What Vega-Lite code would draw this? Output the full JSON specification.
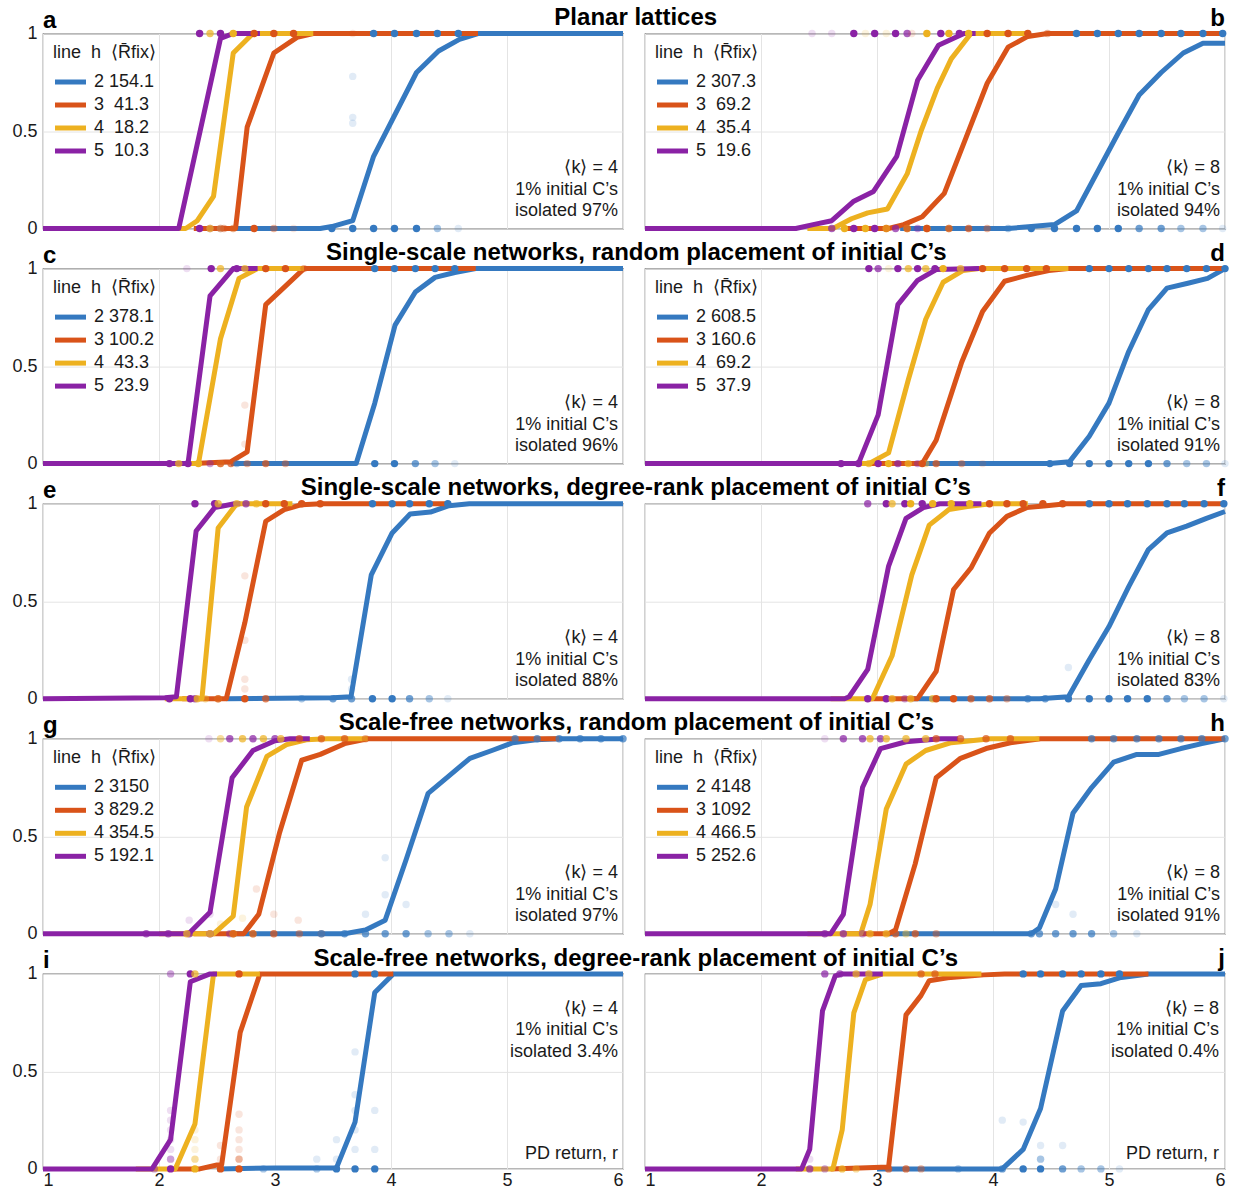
{
"$schema":"https://vega.github.io/schema/vega-lite/v6.json",
"background":"white",
"padding":{"left":11,"top":5.5,"right":10,"bottom":0},
"config":{
"font":"Liberation Sans",
"view":{"stroke":"#666","strokeWidth":1.2},
"axis":{"grid":true,"gridColor":"#e4e4e4","gridWidth":1,"domain":false,"ticks":false,"labelFontSize":18,"labelColor":"#1a1a1a","labelFont":"Liberation Sans"},
"axisX":{"labelPadding":3},
"axisY":{"labelPadding":6},
"legend":{"labelFontSize":18,"titleFontSize":18,"titleFontWeight":"normal","labelColor":"#1a1a1a","titleColor":"#1a1a1a","offset":10,"padding":0,"rowPadding":0,"titlePadding":8,"labelOffset":16,"labelFont":"Liberation Sans","titleFont":"Liberation Sans"},
"title":{"fontSize":24,"fontWeight":"bold","color":"#000","font":"Liberation Sans","frame":"group","offset":3}
},
"datasets":{
"lines":[
{"p":"a","h":2,"x":2.6,"y":0},{"p":"a","h":2,"x":3.39,"y":0},{"p":"a","h":2,"x":3.49,"y":0.01},{"p":"a","h":2,"x":3.67,"y":0.04},{"p":"a","h":2,"x":3.85,"y":0.37},{"p":"a","h":2,"x":4.22,"y":0.8},{"p":"a","h":2,"x":4.41,"y":0.91},{"p":"a","h":2,"x":4.59,"y":0.97},{"p":"a","h":2,"x":4.75,"y":1},{"p":"a","h":2,"x":6,"y":1},
{"p":"a","h":3,"x":2.3,"y":0},{"p":"a","h":3,"x":2.66,"y":0},{"p":"a","h":3,"x":2.76,"y":0.52},{"p":"a","h":3,"x":2.99,"y":0.9},{"p":"a","h":3,"x":3.19,"y":0.98},{"p":"a","h":3,"x":3.33,"y":1},{"p":"a","h":3,"x":4.75,"y":1},
{"p":"a","h":4,"x":2.0,"y":0},{"p":"a","h":4,"x":2.23,"y":0},{"p":"a","h":4,"x":2.33,"y":0.04},{"p":"a","h":4,"x":2.47,"y":0.165},{"p":"a","h":4,"x":2.64,"y":0.9},{"p":"a","h":4,"x":2.81,"y":1},{"p":"a","h":4,"x":3.33,"y":1},
{"p":"a","h":5,"x":1,"y":0},{"p":"a","h":5,"x":2.17,"y":0},{"p":"a","h":5,"x":2.53,"y":0.975},{"p":"a","h":5,"x":2.64,"y":1},{"p":"a","h":5,"x":2.87,"y":1},
{"p":"b","h":2,"x":3.2,"y":0},{"p":"b","h":2,"x":4.13,"y":0},{"p":"b","h":2,"x":4.33,"y":0.01},{"p":"b","h":2,"x":4.53,"y":0.02},{"p":"b","h":2,"x":4.72,"y":0.09},{"p":"b","h":2,"x":5.08,"y":0.49},{"p":"b","h":2,"x":5.26,"y":0.685},{"p":"b","h":2,"x":5.45,"y":0.8},{"p":"b","h":2,"x":5.64,"y":0.9},{"p":"b","h":2,"x":5.81,"y":0.95},{"p":"b","h":2,"x":6,"y":0.95},
{"p":"b","h":3,"x":2.7,"y":0},{"p":"b","h":3,"x":3.1,"y":0},{"p":"b","h":3,"x":3.23,"y":0.02},{"p":"b","h":3,"x":3.39,"y":0.06},{"p":"b","h":3,"x":3.58,"y":0.18},{"p":"b","h":3,"x":3.77,"y":0.47},{"p":"b","h":3,"x":3.95,"y":0.745},{"p":"b","h":3,"x":4.13,"y":0.93},{"p":"b","h":3,"x":4.3,"y":0.985},{"p":"b","h":3,"x":4.47,"y":1},{"p":"b","h":3,"x":6,"y":1},
{"p":"b","h":4,"x":2.4,"y":0},{"p":"b","h":4,"x":2.62,"y":0},{"p":"b","h":4,"x":2.78,"y":0.05},{"p":"b","h":4,"x":2.92,"y":0.08},{"p":"b","h":4,"x":3.09,"y":0.1},{"p":"b","h":4,"x":3.26,"y":0.28},{"p":"b","h":4,"x":3.38,"y":0.5},{"p":"b","h":4,"x":3.52,"y":0.72},{"p":"b","h":4,"x":3.64,"y":0.87},{"p":"b","h":4,"x":3.81,"y":1},{"p":"b","h":4,"x":4.3,"y":1},
{"p":"b","h":5,"x":1,"y":0},{"p":"b","h":5,"x":2.3,"y":0},{"p":"b","h":5,"x":2.45,"y":0.02},{"p":"b","h":5,"x":2.61,"y":0.04},{"p":"b","h":5,"x":2.8,"y":0.14},{"p":"b","h":5,"x":2.97,"y":0.19},{"p":"b","h":5,"x":3.17,"y":0.37},{"p":"b","h":5,"x":3.35,"y":0.76},{"p":"b","h":5,"x":3.53,"y":0.94},{"p":"b","h":5,"x":3.75,"y":1},{"p":"b","h":5,"x":3.85,"y":1},
{"p":"c","h":2,"x":2.62,"y":0},{"p":"c","h":2,"x":3.7,"y":0},{"p":"c","h":2,"x":3.86,"y":0.31},{"p":"c","h":2,"x":4.035,"y":0.71},{"p":"c","h":2,"x":4.21,"y":0.88},{"p":"c","h":2,"x":4.38,"y":0.955},{"p":"c","h":2,"x":4.55,"y":0.98},{"p":"c","h":2,"x":4.73,"y":1},{"p":"c","h":2,"x":6,"y":1},
{"p":"c","h":3,"x":2.3,"y":0},{"p":"c","h":3,"x":2.62,"y":0.01},{"p":"c","h":3,"x":2.76,"y":0.06},{"p":"c","h":3,"x":2.92,"y":0.815},{"p":"c","h":3,"x":3.09,"y":0.91},{"p":"c","h":3,"x":3.25,"y":1},{"p":"c","h":3,"x":4.73,"y":1},
{"p":"c","h":4,"x":2.1,"y":0},{"p":"c","h":4,"x":2.34,"y":0},{"p":"c","h":4,"x":2.53,"y":0.64},{"p":"c","h":4,"x":2.69,"y":0.95},{"p":"c","h":4,"x":2.85,"y":1},{"p":"c","h":4,"x":3.25,"y":1},
{"p":"c","h":5,"x":1,"y":0},{"p":"c","h":5,"x":2.25,"y":0},{"p":"c","h":5,"x":2.44,"y":0.86},{"p":"c","h":5,"x":2.64,"y":1},{"p":"c","h":5,"x":2.85,"y":1},
{"p":"d","h":2,"x":3.3,"y":0},{"p":"d","h":2,"x":4.49,"y":0},{"p":"d","h":2,"x":4.66,"y":0.01},{"p":"d","h":2,"x":4.83,"y":0.14},{"p":"d","h":2,"x":5,"y":0.31},{"p":"d","h":2,"x":5.17,"y":0.575},{"p":"d","h":2,"x":5.34,"y":0.79},{"p":"d","h":2,"x":5.5,"y":0.9},{"p":"d","h":2,"x":5.68,"y":0.925},{"p":"d","h":2,"x":5.85,"y":0.95},{"p":"d","h":2,"x":6,"y":1},
{"p":"d","h":3,"x":2.9,"y":0},{"p":"d","h":3,"x":3.39,"y":0},{"p":"d","h":3,"x":3.51,"y":0.12},{"p":"d","h":3,"x":3.73,"y":0.52},{"p":"d","h":3,"x":3.91,"y":0.78},{"p":"d","h":3,"x":4.1,"y":0.935},{"p":"d","h":3,"x":4.29,"y":0.965},{"p":"d","h":3,"x":4.48,"y":0.99},{"p":"d","h":3,"x":4.65,"y":1},{"p":"d","h":3,"x":6,"y":1},
{"p":"d","h":4,"x":2.7,"y":0},{"p":"d","h":4,"x":2.93,"y":0},{"p":"d","h":4,"x":3.1,"y":0.055},{"p":"d","h":4,"x":3.27,"y":0.43},{"p":"d","h":4,"x":3.42,"y":0.74},{"p":"d","h":4,"x":3.57,"y":0.93},{"p":"d","h":4,"x":3.74,"y":0.99},{"p":"d","h":4,"x":3.88,"y":1},{"p":"d","h":4,"x":4.65,"y":1},
{"p":"d","h":5,"x":1,"y":0},{"p":"d","h":5,"x":2.84,"y":0},{"p":"d","h":5,"x":3.01,"y":0.25},{"p":"d","h":5,"x":3.18,"y":0.815},{"p":"d","h":5,"x":3.35,"y":0.94},{"p":"d","h":5,"x":3.51,"y":0.995},{"p":"d","h":5,"x":3.88,"y":1},
{"p":"e","h":2,"x":2.58,"y":0},{"p":"e","h":2,"x":3.5,"y":0.005},{"p":"e","h":2,"x":3.655,"y":0.01},{"p":"e","h":2,"x":3.83,"y":0.635},{"p":"e","h":2,"x":4.01,"y":0.85},{"p":"e","h":2,"x":4.165,"y":0.947},{"p":"e","h":2,"x":4.34,"y":0.957},{"p":"e","h":2,"x":4.5,"y":0.99},{"p":"e","h":2,"x":4.675,"y":1},{"p":"e","h":2,"x":6,"y":1},
{"p":"e","h":3,"x":2.2,"y":0},{"p":"e","h":3,"x":2.58,"y":0},{"p":"e","h":3,"x":2.74,"y":0.39},{"p":"e","h":3,"x":2.92,"y":0.91},{"p":"e","h":3,"x":3.08,"y":0.97},{"p":"e","h":3,"x":3.23,"y":0.995},{"p":"e","h":3,"x":3.4,"y":1},{"p":"e","h":3,"x":4.5,"y":1},
{"p":"e","h":4,"x":2.05,"y":0},{"p":"e","h":4,"x":2.37,"y":0},{"p":"e","h":4,"x":2.51,"y":0.875},{"p":"e","h":4,"x":2.67,"y":1},{"p":"e","h":4,"x":3.15,"y":1},
{"p":"e","h":5,"x":1,"y":0},{"p":"e","h":5,"x":2.05,"y":0.005},{"p":"e","h":5,"x":2.15,"y":0.01},{"p":"e","h":5,"x":2.32,"y":0.86},{"p":"e","h":5,"x":2.48,"y":0.98},{"p":"e","h":5,"x":2.65,"y":1},{"p":"e","h":5,"x":2.7,"y":1},
{"p":"f","h":2,"x":3.3,"y":0},{"p":"f","h":2,"x":4.4,"y":0},{"p":"f","h":2,"x":4.65,"y":0.01},{"p":"f","h":2,"x":4.83,"y":0.2},{"p":"f","h":2,"x":5,"y":0.37},{"p":"f","h":2,"x":5.17,"y":0.575},{"p":"f","h":2,"x":5.34,"y":0.765},{"p":"f","h":2,"x":5.5,"y":0.85},{"p":"f","h":2,"x":5.67,"y":0.885},{"p":"f","h":2,"x":5.84,"y":0.925},{"p":"f","h":2,"x":6,"y":0.96},
{"p":"f","h":3,"x":2.9,"y":0},{"p":"f","h":3,"x":3.35,"y":0},{"p":"f","h":3,"x":3.51,"y":0.14},{"p":"f","h":3,"x":3.66,"y":0.56},{"p":"f","h":3,"x":3.81,"y":0.67},{"p":"f","h":3,"x":3.97,"y":0.85},{"p":"f","h":3,"x":4.12,"y":0.935},{"p":"f","h":3,"x":4.29,"y":0.98},{"p":"f","h":3,"x":4.46,"y":0.99},{"p":"f","h":3,"x":4.63,"y":1},{"p":"f","h":3,"x":6,"y":1},
{"p":"f","h":4,"x":2.6,"y":0},{"p":"f","h":4,"x":2.96,"y":0},{"p":"f","h":4,"x":3.13,"y":0.22},{"p":"f","h":4,"x":3.3,"y":0.635},{"p":"f","h":4,"x":3.45,"y":0.89},{"p":"f","h":4,"x":3.62,"y":0.97},{"p":"f","h":4,"x":3.78,"y":0.985},{"p":"f","h":4,"x":3.98,"y":1},{"p":"f","h":4,"x":4.3,"y":1},
{"p":"f","h":5,"x":1,"y":0},{"p":"f","h":5,"x":2.72,"y":0},{"p":"f","h":5,"x":2.76,"y":0.01},{"p":"f","h":5,"x":2.92,"y":0.15},{"p":"f","h":5,"x":3.1,"y":0.68},{"p":"f","h":5,"x":3.25,"y":0.925},{"p":"f","h":5,"x":3.4,"y":0.98},{"p":"f","h":5,"x":3.54,"y":1},{"p":"f","h":5,"x":3.9,"y":1},
{"p":"g","h":2,"x":2.6,"y":0},{"p":"g","h":2,"x":3.6,"y":0},{"p":"g","h":2,"x":3.78,"y":0.02},{"p":"g","h":2,"x":3.95,"y":0.07},{"p":"g","h":2,"x":4.13,"y":0.38},{"p":"g","h":2,"x":4.32,"y":0.72},{"p":"g","h":2,"x":4.5,"y":0.81},{"p":"g","h":2,"x":4.68,"y":0.9},{"p":"g","h":2,"x":4.87,"y":0.94},{"p":"g","h":2,"x":5.05,"y":0.98},{"p":"g","h":2,"x":5.25,"y":0.995},{"p":"g","h":2,"x":5.45,"y":1},{"p":"g","h":2,"x":6,"y":1},
{"p":"g","h":3,"x":2.3,"y":0},{"p":"g","h":3,"x":2.73,"y":0},{"p":"g","h":3,"x":2.86,"y":0.1},{"p":"g","h":3,"x":3.04,"y":0.52},{"p":"g","h":3,"x":3.23,"y":0.89},{"p":"g","h":3,"x":3.39,"y":0.92},{"p":"g","h":3,"x":3.6,"y":0.975},{"p":"g","h":3,"x":3.8,"y":1},{"p":"g","h":3,"x":5.45,"y":1},
{"p":"g","h":4,"x":2,"y":0},{"p":"g","h":4,"x":2.47,"y":0},{"p":"g","h":4,"x":2.64,"y":0.09},{"p":"g","h":4,"x":2.755,"y":0.65},{"p":"g","h":4,"x":2.93,"y":0.91},{"p":"g","h":4,"x":3.1,"y":0.97},{"p":"g","h":4,"x":3.27,"y":0.995},{"p":"g","h":4,"x":3.45,"y":1},{"p":"g","h":4,"x":3.8,"y":1},
{"p":"g","h":5,"x":1,"y":0},{"p":"g","h":5,"x":2.255,"y":0},{"p":"g","h":5,"x":2.44,"y":0.11},{"p":"g","h":5,"x":2.63,"y":0.8},{"p":"g","h":5,"x":2.81,"y":0.94},{"p":"g","h":5,"x":3,"y":0.99},{"p":"g","h":5,"x":3.13,"y":1},{"p":"g","h":5,"x":3.3,"y":1},
{"p":"h","h":2,"x":3.1,"y":0},{"p":"h","h":2,"x":4.33,"y":0},{"p":"h","h":2,"x":4.4,"y":0.03},{"p":"h","h":2,"x":4.54,"y":0.23},{"p":"h","h":2,"x":4.69,"y":0.62},{"p":"h","h":2,"x":4.85,"y":0.75},{"p":"h","h":2,"x":5.04,"y":0.88},{"p":"h","h":2,"x":5.24,"y":0.92},{"p":"h","h":2,"x":5.43,"y":0.92},{"p":"h","h":2,"x":5.62,"y":0.95},{"p":"h","h":2,"x":5.8,"y":0.975},{"p":"h","h":2,"x":6,"y":1},
{"p":"h","h":3,"x":2.7,"y":0},{"p":"h","h":3,"x":3.1,"y":0},{"p":"h","h":3,"x":3.16,"y":0.02},{"p":"h","h":3,"x":3.33,"y":0.36},{"p":"h","h":3,"x":3.51,"y":0.8},{"p":"h","h":3,"x":3.72,"y":0.9},{"p":"h","h":3,"x":3.94,"y":0.95},{"p":"h","h":3,"x":4.15,"y":0.98},{"p":"h","h":3,"x":4.41,"y":1},{"p":"h","h":3,"x":6,"y":1},
{"p":"h","h":4,"x":2.4,"y":0},{"p":"h","h":4,"x":2.86,"y":0},{"p":"h","h":4,"x":2.94,"y":0.15},{"p":"h","h":4,"x":3.08,"y":0.64},{"p":"h","h":4,"x":3.25,"y":0.87},{"p":"h","h":4,"x":3.42,"y":0.94},{"p":"h","h":4,"x":3.64,"y":0.98},{"p":"h","h":4,"x":3.98,"y":1},{"p":"h","h":4,"x":4.4,"y":1},
{"p":"h","h":5,"x":1,"y":0},{"p":"h","h":5,"x":2.6,"y":0},{"p":"h","h":5,"x":2.71,"y":0.1},{"p":"h","h":5,"x":2.875,"y":0.75},{"p":"h","h":5,"x":3.03,"y":0.95},{"p":"h","h":5,"x":3.25,"y":0.985},{"p":"h","h":5,"x":3.55,"y":1},{"p":"h","h":5,"x":3.7,"y":1},
{"p":"i","h":2,"x":2.5,"y":0},{"p":"i","h":2,"x":3,"y":0.005},{"p":"i","h":2,"x":3.53,"y":0.005},{"p":"i","h":2,"x":3.69,"y":0.24},{"p":"i","h":2,"x":3.86,"y":0.905},{"p":"i","h":2,"x":4.02,"y":1},{"p":"i","h":2,"x":6,"y":1},
{"p":"i","h":3,"x":2.1,"y":0},{"p":"i","h":3,"x":2.35,"y":0},{"p":"i","h":3,"x":2.5,"y":0.02},{"p":"i","h":3,"x":2.54,"y":0.02},{"p":"i","h":3,"x":2.7,"y":0.7},{"p":"i","h":3,"x":2.87,"y":1},{"p":"i","h":3,"x":4.02,"y":1},
{"p":"i","h":4,"x":1.8,"y":0},{"p":"i","h":4,"x":2.14,"y":0},{"p":"i","h":4,"x":2.31,"y":0.23},{"p":"i","h":4,"x":2.47,"y":1},{"p":"i","h":4,"x":2.87,"y":1},
{"p":"i","h":5,"x":1,"y":0},{"p":"i","h":5,"x":1.94,"y":0},{"p":"i","h":5,"x":2.1,"y":0.15},{"p":"i","h":5,"x":2.27,"y":0.96},{"p":"i","h":5,"x":2.44,"y":1},{"p":"i","h":5,"x":2.5,"y":1},
{"p":"j","h":2,"x":3,"y":0},{"p":"j","h":2,"x":4.08,"y":0},{"p":"j","h":2,"x":4.26,"y":0.1},{"p":"j","h":2,"x":4.41,"y":0.31},{"p":"j","h":2,"x":4.6,"y":0.81},{"p":"j","h":2,"x":4.76,"y":0.94},{"p":"j","h":2,"x":4.93,"y":0.95},{"p":"j","h":2,"x":5.09,"y":0.98},{"p":"j","h":2,"x":5.34,"y":1},{"p":"j","h":2,"x":6,"y":1},
{"p":"j","h":3,"x":2.6,"y":0},{"p":"j","h":3,"x":3.1,"y":0.01},{"p":"j","h":3,"x":3.25,"y":0.79},{"p":"j","h":3,"x":3.38,"y":0.89},{"p":"j","h":3,"x":3.45,"y":0.965},{"p":"j","h":3,"x":3.61,"y":0.98},{"p":"j","h":3,"x":3.92,"y":0.995},{"p":"j","h":3,"x":4.1,"y":1},{"p":"j","h":3,"x":5.34,"y":1},
{"p":"j","h":4,"x":2.3,"y":0},{"p":"j","h":4,"x":2.62,"y":0},{"p":"j","h":4,"x":2.7,"y":0.2},{"p":"j","h":4,"x":2.8,"y":0.8},{"p":"j","h":4,"x":2.9,"y":0.97},{"p":"j","h":4,"x":3.05,"y":1},{"p":"j","h":4,"x":3.9,"y":1},
{"p":"j","h":5,"x":1,"y":0},{"p":"j","h":5,"x":2.35,"y":0},{"p":"j","h":5,"x":2.42,"y":0.1},{"p":"j","h":5,"x":2.53,"y":0.81},{"p":"j","h":5,"x":2.64,"y":0.99},{"p":"j","h":5,"x":2.7,"y":1},{"p":"j","h":5,"x":3.05,"y":1}
],
"dots":[
{"p":"a","h":5,"x":2.35,"y":1,"n":4},{"p":"a","h":5,"x":2.53,"y":1,"n":4},{"p":"a","h":5,"x":2.35,"y":0,"n":4},{"p":"a","h":5,"x":2.44,"y":0,"n":2},{"p":"a","h":5,"x":2.53,"y":0,"n":2},
{"p":"a","h":4,"x":2.44,"y":1,"n":3},{"p":"a","h":4,"x":2.64,"y":1,"n":4},{"p":"a","h":4,"x":2.44,"y":0,"n":3},{"p":"a","h":4,"x":2.53,"y":0,"n":2},{"p":"a","h":4,"x":2.64,"y":0,"n":1},
{"p":"a","h":3,"x":2.82,"y":1,"n":4},{"p":"a","h":3,"x":2.99,"y":1,"n":4},{"p":"a","h":3,"x":3.16,"y":1,"n":4},{"p":"a","h":3,"x":3.67,"y":1,"n":1},{"p":"a","h":3,"x":2.56,"y":0,"n":2},{"p":"a","h":3,"x":2.64,"y":0,"n":2},{"p":"a","h":3,"x":2.82,"y":0,"n":4},{"p":"a","h":3,"x":2.99,"y":0,"n":2},{"p":"a","h":3,"x":3.16,"y":0,"n":1},
{"p":"a","h":2,"x":3.85,"y":1,"n":4},{"p":"a","h":2,"x":4.03,"y":1,"n":4},{"p":"a","h":2,"x":4.22,"y":1,"n":4},{"p":"a","h":2,"x":4.4,"y":1,"n":4},{"p":"a","h":2,"x":4.58,"y":1,"n":4},{"p":"a","h":2,"x":3.49,"y":0,"n":4},{"p":"a","h":2,"x":3.67,"y":0,"n":4},{"p":"a","h":2,"x":3.85,"y":0,"n":4},{"p":"a","h":2,"x":4.03,"y":0,"n":4},{"p":"a","h":2,"x":4.22,"y":0,"n":4},{"p":"a","h":2,"x":4.4,"y":0,"n":2},{"p":"a","h":2,"x":4.58,"y":0,"n":1},{"p":"a","h":2,"x":3.67,"y":0.78,"n":1},{"p":"a","h":2,"x":3.67,"y":0.57,"n":1},{"p":"a","h":2,"x":3.67,"y":0.54,"n":1},
{"p":"b","h":5,"x":2.44,"y":1,"n":1},{"p":"b","h":5,"x":2.61,"y":1,"n":1},{"p":"b","h":5,"x":2.8,"y":1,"n":4},{"p":"b","h":5,"x":2.98,"y":1,"n":4},{"p":"b","h":5,"x":3.16,"y":1,"n":4},{"p":"b","h":5,"x":3.26,"y":1,"n":3},{"p":"b","h":5,"x":3.55,"y":1,"n":4},{"p":"b","h":5,"x":3.71,"y":1,"n":4},{"p":"b","h":5,"x":2.61,"y":0,"n":3},{"p":"b","h":5,"x":2.8,"y":0,"n":4},{"p":"b","h":5,"x":2.98,"y":0,"n":4},{"p":"b","h":5,"x":3.16,"y":0,"n":3},{"p":"b","h":5,"x":3.35,"y":0,"n":2},
{"p":"b","h":4,"x":2.9,"y":1,"n":1},{"p":"b","h":4,"x":3.08,"y":1,"n":1},{"p":"b","h":4,"x":3.43,"y":1,"n":4},{"p":"b","h":4,"x":3.62,"y":1,"n":4},{"p":"b","h":4,"x":3.79,"y":1,"n":4},{"p":"b","h":4,"x":2.72,"y":0,"n":4},{"p":"b","h":4,"x":2.9,"y":0,"n":4},{"p":"b","h":4,"x":3.08,"y":0,"n":4},{"p":"b","h":4,"x":3.26,"y":0,"n":3},{"p":"b","h":4,"x":3.43,"y":0,"n":3},{"p":"b","h":4,"x":3.62,"y":0,"n":2},
{"p":"b","h":3,"x":3.95,"y":1,"n":4},{"p":"b","h":3,"x":4.13,"y":1,"n":4},{"p":"b","h":3,"x":4.3,"y":1,"n":4},{"p":"b","h":3,"x":4.47,"y":1,"n":2},{"p":"b","h":3,"x":3.3,"y":1,"n":1},{"p":"b","h":3,"x":3.08,"y":0,"n":2},{"p":"b","h":3,"x":3.26,"y":0,"n":3},{"p":"b","h":3,"x":3.43,"y":0,"n":4},{"p":"b","h":3,"x":3.62,"y":0,"n":3},{"p":"b","h":3,"x":3.79,"y":0,"n":3},{"p":"b","h":3,"x":3.95,"y":0,"n":2},
{"p":"b","h":2,"x":4.72,"y":1,"n":4},{"p":"b","h":2,"x":4.9,"y":1,"n":4},{"p":"b","h":2,"x":5.08,"y":1,"n":4},{"p":"b","h":2,"x":5.26,"y":1,"n":4},{"p":"b","h":2,"x":5.45,"y":1,"n":4},{"p":"b","h":2,"x":5.62,"y":1,"n":4},{"p":"b","h":2,"x":5.81,"y":1,"n":4},{"p":"b","h":2,"x":5.98,"y":1,"n":4},{"p":"b","h":2,"x":4.13,"y":0,"n":2},{"p":"b","h":2,"x":4.33,"y":0,"n":4},{"p":"b","h":2,"x":4.53,"y":0,"n":4},{"p":"b","h":2,"x":4.72,"y":0,"n":4},{"p":"b","h":2,"x":4.9,"y":0,"n":4},{"p":"b","h":2,"x":5.08,"y":0,"n":4},{"p":"b","h":2,"x":5.26,"y":0,"n":3},{"p":"b","h":2,"x":5.45,"y":0,"n":3},{"p":"b","h":2,"x":5.62,"y":0,"n":2},{"p":"b","h":2,"x":5.81,"y":0,"n":2},{"p":"b","h":2,"x":5.98,"y":0,"n":1},
{"p":"c","h":5,"x":2.45,"y":1,"n":4},{"p":"c","h":5,"x":2.67,"y":1,"n":4},{"p":"c","h":5,"x":2.24,"y":1,"n":1},{"p":"c","h":5,"x":2.09,"y":0,"n":4},{"p":"c","h":5,"x":2.25,"y":0,"n":4},{"p":"c","h":5,"x":2.44,"y":0,"n":2},
{"p":"c","h":4,"x":2.53,"y":1,"n":3},{"p":"c","h":4,"x":2.74,"y":1,"n":3},{"p":"c","h":4,"x":2.92,"y":1,"n":2},{"p":"c","h":4,"x":2.17,"y":0,"n":3},{"p":"c","h":4,"x":2.34,"y":0,"n":4},{"p":"c","h":4,"x":2.53,"y":0,"n":2},
{"p":"c","h":3,"x":2.92,"y":1,"n":4},{"p":"c","h":3,"x":3.09,"y":1,"n":4},{"p":"c","h":3,"x":3.25,"y":1,"n":2},{"p":"c","h":3,"x":2.53,"y":0,"n":3},{"p":"c","h":3,"x":2.62,"y":0,"n":3},{"p":"c","h":3,"x":2.76,"y":0,"n":2},{"p":"c","h":3,"x":2.92,"y":0,"n":3},{"p":"c","h":3,"x":3.09,"y":0,"n":2},{"p":"c","h":3,"x":2.74,"y":0.3,"n":1},{"p":"c","h":3,"x":2.74,"y":0.1,"n":1},
{"p":"c","h":2,"x":3.86,"y":1,"n":4},{"p":"c","h":2,"x":4.03,"y":1,"n":4},{"p":"c","h":2,"x":4.21,"y":1,"n":4},{"p":"c","h":2,"x":4.38,"y":1,"n":4},{"p":"c","h":2,"x":4.55,"y":1,"n":4},{"p":"c","h":2,"x":2.67,"y":0,"n":2},{"p":"c","h":2,"x":3.86,"y":0,"n":4},{"p":"c","h":2,"x":4.03,"y":0,"n":4},{"p":"c","h":2,"x":4.21,"y":0,"n":3},{"p":"c","h":2,"x":4.38,"y":0,"n":2},{"p":"c","h":2,"x":4.55,"y":0,"n":1},
{"p":"d","h":5,"x":2.93,"y":1,"n":4},{"p":"d","h":5,"x":3.01,"y":1,"n":3},{"p":"d","h":5,"x":3.18,"y":1,"n":4},{"p":"d","h":5,"x":3.35,"y":1,"n":4},{"p":"d","h":5,"x":3.5,"y":1,"n":4},{"p":"d","h":5,"x":2.69,"y":0,"n":4},{"p":"d","h":5,"x":2.84,"y":0,"n":4},{"p":"d","h":5,"x":3.01,"y":0,"n":4},{"p":"d","h":5,"x":3.18,"y":0,"n":3},{"p":"d","h":5,"x":3.35,"y":0,"n":2},
{"p":"d","h":4,"x":3.1,"y":1,"n":1},{"p":"d","h":4,"x":3.27,"y":1,"n":3},{"p":"d","h":4,"x":3.42,"y":1,"n":3},{"p":"d","h":4,"x":3.57,"y":1,"n":4},{"p":"d","h":4,"x":3.72,"y":1,"n":3},{"p":"d","h":4,"x":2.93,"y":0,"n":3},{"p":"d","h":4,"x":3.1,"y":0,"n":4},{"p":"d","h":4,"x":3.27,"y":0,"n":3},{"p":"d","h":4,"x":3.42,"y":0,"n":2},
{"p":"d","h":3,"x":3.91,"y":1,"n":4},{"p":"d","h":3,"x":4.1,"y":1,"n":4},{"p":"d","h":3,"x":4.29,"y":1,"n":4},{"p":"d","h":3,"x":4.46,"y":1,"n":4},{"p":"d","h":3,"x":3.39,"y":0,"n":4},{"p":"d","h":3,"x":3.51,"y":0,"n":3},{"p":"d","h":3,"x":3.73,"y":0,"n":2},{"p":"d","h":3,"x":3.91,"y":0,"n":1},
{"p":"d","h":2,"x":4.83,"y":1,"n":4},{"p":"d","h":2,"x":5,"y":1,"n":4},{"p":"d","h":2,"x":5.17,"y":1,"n":4},{"p":"d","h":2,"x":5.34,"y":1,"n":4},{"p":"d","h":2,"x":5.5,"y":1,"n":4},{"p":"d","h":2,"x":5.67,"y":1,"n":4},{"p":"d","h":2,"x":5.84,"y":1,"n":4},{"p":"d","h":2,"x":6,"y":1,"n":4},{"p":"d","h":2,"x":4.49,"y":0,"n":4},{"p":"d","h":2,"x":4.66,"y":0,"n":4},{"p":"d","h":2,"x":4.83,"y":0,"n":4},{"p":"d","h":2,"x":5,"y":0,"n":4},{"p":"d","h":2,"x":5.17,"y":0,"n":4},{"p":"d","h":2,"x":5.34,"y":0,"n":4},{"p":"d","h":2,"x":5.5,"y":0,"n":3},{"p":"d","h":2,"x":5.67,"y":0,"n":2},{"p":"d","h":2,"x":5.84,"y":0,"n":2},{"p":"d","h":2,"x":6,"y":0,"n":1},
{"p":"e","h":5,"x":2.31,"y":1,"n":4},{"p":"e","h":5,"x":2.48,"y":1,"n":4},{"p":"e","h":5,"x":2.75,"y":1,"n":3},{"p":"e","h":5,"x":2.09,"y":0,"n":4},{"p":"e","h":5,"x":2.27,"y":0,"n":4},{"p":"e","h":5,"x":2.31,"y":0,"n":3},
{"p":"e","h":4,"x":2.51,"y":1,"n":3},{"p":"e","h":4,"x":2.67,"y":1,"n":3},{"p":"e","h":4,"x":2.84,"y":1,"n":3},{"p":"e","h":4,"x":2.33,"y":0,"n":3},{"p":"e","h":4,"x":2.4,"y":0,"n":2},{"p":"e","h":4,"x":2.51,"y":0,"n":2},
{"p":"e","h":3,"x":2.92,"y":1,"n":4},{"p":"e","h":3,"x":3.08,"y":1,"n":4},{"p":"e","h":3,"x":3.23,"y":1,"n":4},{"p":"e","h":3,"x":3.39,"y":1,"n":4},{"p":"e","h":3,"x":2.51,"y":0,"n":3},{"p":"e","h":3,"x":2.74,"y":0,"n":4},{"p":"e","h":3,"x":2.92,"y":0,"n":3},{"p":"e","h":3,"x":2.74,"y":0.05,"n":1},{"p":"e","h":3,"x":2.74,"y":0.1,"n":1},{"p":"e","h":3,"x":2.74,"y":0.3,"n":1},{"p":"e","h":3,"x":2.74,"y":0.63,"n":1},
{"p":"e","h":2,"x":3.84,"y":1,"n":4},{"p":"e","h":2,"x":4.01,"y":1,"n":4},{"p":"e","h":2,"x":4.16,"y":1,"n":4},{"p":"e","h":2,"x":4.33,"y":1,"n":4},{"p":"e","h":2,"x":4.49,"y":1,"n":4},{"p":"e","h":2,"x":3.23,"y":0,"n":2},{"p":"e","h":2,"x":3.5,"y":0,"n":3},{"p":"e","h":2,"x":3.66,"y":0,"n":3},{"p":"e","h":2,"x":3.84,"y":0,"n":4},{"p":"e","h":2,"x":4.01,"y":0,"n":4},{"p":"e","h":2,"x":4.16,"y":0,"n":3},{"p":"e","h":2,"x":4.33,"y":0,"n":2},{"p":"e","h":2,"x":4.49,"y":0,"n":1},{"p":"e","h":2,"x":3.66,"y":0.1,"n":1},{"p":"e","h":2,"x":3.66,"y":0.05,"n":1},
{"p":"f","h":5,"x":2.92,"y":1,"n":3},{"p":"f","h":5,"x":3.08,"y":1,"n":4},{"p":"f","h":5,"x":3.24,"y":1,"n":4},{"p":"f","h":5,"x":3.39,"y":1,"n":4},{"p":"f","h":5,"x":2.92,"y":0,"n":4},{"p":"f","h":5,"x":3.08,"y":0,"n":4},{"p":"f","h":5,"x":3.24,"y":0,"n":2},
{"p":"f","h":4,"x":3.13,"y":1,"n":3},{"p":"f","h":4,"x":3.29,"y":1,"n":4},{"p":"f","h":4,"x":3.48,"y":1,"n":4},{"p":"f","h":4,"x":3.64,"y":1,"n":4},{"p":"f","h":4,"x":3.8,"y":1,"n":4},{"p":"f","h":4,"x":3.13,"y":0,"n":3},{"p":"f","h":4,"x":3.29,"y":0,"n":3},{"p":"f","h":4,"x":3.48,"y":0,"n":3},
{"p":"f","h":3,"x":3.97,"y":1,"n":4},{"p":"f","h":3,"x":4.12,"y":1,"n":4},{"p":"f","h":3,"x":4.26,"y":1,"n":4},{"p":"f","h":3,"x":4.43,"y":1,"n":4},{"p":"f","h":3,"x":4.6,"y":1,"n":4},{"p":"f","h":3,"x":3.51,"y":0,"n":4},{"p":"f","h":3,"x":3.66,"y":0,"n":4},{"p":"f","h":3,"x":3.81,"y":0,"n":3},{"p":"f","h":3,"x":3.97,"y":0,"n":3},{"p":"f","h":3,"x":4.12,"y":0,"n":2},
{"p":"f","h":2,"x":4.83,"y":1,"n":4},{"p":"f","h":2,"x":5,"y":1,"n":4},{"p":"f","h":2,"x":5.16,"y":1,"n":4},{"p":"f","h":2,"x":5.33,"y":1,"n":4},{"p":"f","h":2,"x":5.5,"y":1,"n":4},{"p":"f","h":2,"x":5.65,"y":1,"n":4},{"p":"f","h":2,"x":5.82,"y":1,"n":4},{"p":"f","h":2,"x":5.99,"y":1,"n":4},{"p":"f","h":2,"x":4.3,"y":0,"n":3},{"p":"f","h":2,"x":4.45,"y":0,"n":3},{"p":"f","h":2,"x":4.65,"y":0,"n":4},{"p":"f","h":2,"x":4.83,"y":0,"n":4},{"p":"f","h":2,"x":5,"y":0,"n":4},{"p":"f","h":2,"x":5.16,"y":0,"n":4},{"p":"f","h":2,"x":5.33,"y":0,"n":4},{"p":"f","h":2,"x":5.5,"y":0,"n":3},{"p":"f","h":2,"x":5.65,"y":0,"n":2},{"p":"f","h":2,"x":5.82,"y":0,"n":2},{"p":"f","h":2,"x":5.99,"y":0,"n":1},{"p":"f","h":2,"x":4.65,"y":0.16,"n":1},
{"p":"g","h":5,"x":2.43,"y":1,"n":1},{"p":"g","h":5,"x":2.61,"y":1,"n":3},{"p":"g","h":5,"x":2.81,"y":1,"n":3},{"p":"g","h":5,"x":3,"y":1,"n":3},{"p":"g","h":5,"x":1.89,"y":0,"n":3},{"p":"g","h":5,"x":2.08,"y":0,"n":3},{"p":"g","h":5,"x":2.26,"y":0,"n":3},{"p":"g","h":5,"x":2.44,"y":0,"n":3},{"p":"g","h":5,"x":2.61,"y":0,"n":2},{"p":"g","h":5,"x":2.26,"y":0.07,"n":1},{"p":"g","h":5,"x":2.44,"y":0.1,"n":1},
{"p":"g","h":4,"x":2.53,"y":1,"n":2},{"p":"g","h":4,"x":2.72,"y":1,"n":3},{"p":"g","h":4,"x":2.9,"y":1,"n":3},{"p":"g","h":4,"x":3.05,"y":1,"n":3},{"p":"g","h":4,"x":2.24,"y":0,"n":3},{"p":"g","h":4,"x":2.44,"y":0,"n":3},{"p":"g","h":4,"x":2.64,"y":0,"n":3},{"p":"g","h":4,"x":2.81,"y":0,"n":2},{"p":"g","h":4,"x":2.53,"y":0.05,"n":1},{"p":"g","h":4,"x":2.72,"y":0.08,"n":1},
{"p":"g","h":3,"x":3.21,"y":1,"n":3},{"p":"g","h":3,"x":3.4,"y":1,"n":3},{"p":"g","h":3,"x":3.6,"y":1,"n":3},{"p":"g","h":3,"x":3.78,"y":1,"n":2},{"p":"g","h":3,"x":2.64,"y":0,"n":3},{"p":"g","h":3,"x":2.81,"y":0,"n":3},{"p":"g","h":3,"x":2.99,"y":0,"n":3},{"p":"g","h":3,"x":3.21,"y":0,"n":2},{"p":"g","h":3,"x":3.4,"y":0,"n":2},{"p":"g","h":3,"x":2.84,"y":0.23,"n":1},{"p":"g","h":3,"x":2.99,"y":0.1,"n":1},{"p":"g","h":3,"x":3.2,"y":0.07,"n":1},
{"p":"g","h":2,"x":5.07,"y":1,"n":3},{"p":"g","h":2,"x":5.26,"y":1,"n":3},{"p":"g","h":2,"x":5.45,"y":1,"n":3},{"p":"g","h":2,"x":5.63,"y":1,"n":3},{"p":"g","h":2,"x":5.81,"y":1,"n":3},{"p":"g","h":2,"x":6,"y":1,"n":3},{"p":"g","h":2,"x":3.4,"y":0,"n":3},{"p":"g","h":2,"x":3.6,"y":0,"n":3},{"p":"g","h":2,"x":3.78,"y":0,"n":3},{"p":"g","h":2,"x":3.95,"y":0,"n":3},{"p":"g","h":2,"x":4.13,"y":0,"n":3},{"p":"g","h":2,"x":4.32,"y":0,"n":2},{"p":"g","h":2,"x":4.5,"y":0,"n":2},{"p":"g","h":2,"x":4.68,"y":0,"n":1},{"p":"g","h":2,"x":3.78,"y":0.1,"n":1},{"p":"g","h":2,"x":3.95,"y":0.39,"n":1},{"p":"g","h":2,"x":3.95,"y":0.2,"n":1},{"p":"g","h":2,"x":4.13,"y":0.15,"n":1},
{"p":"h","h":5,"x":2.55,"y":1,"n":1},{"p":"h","h":5,"x":2.71,"y":1,"n":3},{"p":"h","h":5,"x":2.875,"y":1,"n":3},{"p":"h","h":5,"x":3.03,"y":1,"n":3},{"p":"h","h":5,"x":2.55,"y":0,"n":3},{"p":"h","h":5,"x":2.71,"y":0,"n":3},{"p":"h","h":5,"x":2.875,"y":0,"n":2},
{"p":"h","h":4,"x":2.94,"y":1,"n":3},{"p":"h","h":4,"x":3.08,"y":1,"n":3},{"p":"h","h":4,"x":3.25,"y":1,"n":3},{"p":"h","h":4,"x":3.42,"y":1,"n":3},{"p":"h","h":4,"x":2.94,"y":0,"n":3},{"p":"h","h":4,"x":3.08,"y":0,"n":3},{"p":"h","h":4,"x":3.25,"y":0,"n":2},
{"p":"h","h":3,"x":3.51,"y":1,"n":3},{"p":"h","h":3,"x":3.72,"y":1,"n":3},{"p":"h","h":3,"x":3.94,"y":1,"n":3},{"p":"h","h":3,"x":4.15,"y":1,"n":3},{"p":"h","h":3,"x":3.16,"y":0,"n":3},{"p":"h","h":3,"x":3.33,"y":0,"n":3},{"p":"h","h":3,"x":3.51,"y":0,"n":2},
{"p":"h","h":2,"x":4.85,"y":1,"n":3},{"p":"h","h":2,"x":5.04,"y":1,"n":3},{"p":"h","h":2,"x":5.24,"y":1,"n":3},{"p":"h","h":2,"x":5.43,"y":1,"n":3},{"p":"h","h":2,"x":5.62,"y":1,"n":3},{"p":"h","h":2,"x":5.8,"y":1,"n":3},{"p":"h","h":2,"x":6,"y":1,"n":3},{"p":"h","h":2,"x":4.33,"y":0,"n":3},{"p":"h","h":2,"x":4.4,"y":0,"n":3},{"p":"h","h":2,"x":4.54,"y":0,"n":3},{"p":"h","h":2,"x":4.69,"y":0,"n":3},{"p":"h","h":2,"x":4.85,"y":0,"n":3},{"p":"h","h":2,"x":5.04,"y":0,"n":2},{"p":"h","h":2,"x":5.24,"y":0,"n":1},{"p":"h","h":2,"x":4.54,"y":0.15,"n":1},{"p":"h","h":2,"x":4.69,"y":0.1,"n":1},
{"p":"i","h":5,"x":2.1,"y":1,"n":2},{"p":"i","h":5,"x":2.27,"y":1,"n":4},{"p":"i","h":5,"x":2.1,"y":0,"n":4},{"p":"i","h":5,"x":1.96,"y":0,"n":2},{"p":"i","h":5,"x":2.1,"y":0.05,"n":2},{"p":"i","h":5,"x":2.1,"y":0.1,"n":1},{"p":"i","h":5,"x":2.1,"y":0.15,"n":1},{"p":"i","h":5,"x":2.1,"y":0.2,"n":1},{"p":"i","h":5,"x":2.1,"y":0.25,"n":1},{"p":"i","h":5,"x":2.1,"y":0.3,"n":1},
{"p":"i","h":4,"x":2.31,"y":1,"n":3},{"p":"i","h":4,"x":2.31,"y":0,"n":4},{"p":"i","h":4,"x":2.31,"y":0.05,"n":2},{"p":"i","h":4,"x":2.31,"y":0.1,"n":1},{"p":"i","h":4,"x":2.31,"y":0.15,"n":1},{"p":"i","h":4,"x":2.31,"y":0.2,"n":1},
{"p":"i","h":3,"x":2.69,"y":1,"n":4},{"p":"i","h":3,"x":2.53,"y":0,"n":4},{"p":"i","h":3,"x":2.69,"y":0,"n":4},{"p":"i","h":3,"x":2.53,"y":0.05,"n":1},{"p":"i","h":3,"x":2.53,"y":0.12,"n":1},{"p":"i","h":3,"x":2.69,"y":0.05,"n":2},{"p":"i","h":3,"x":2.69,"y":0.1,"n":1},{"p":"i","h":3,"x":2.69,"y":0.15,"n":1},{"p":"i","h":3,"x":2.69,"y":0.2,"n":1},{"p":"i","h":3,"x":2.69,"y":0.28,"n":1},
{"p":"i","h":2,"x":3.69,"y":1,"n":4},{"p":"i","h":2,"x":3.86,"y":1,"n":4},{"p":"i","h":2,"x":2.9,"y":0,"n":2},{"p":"i","h":2,"x":3.36,"y":0,"n":2},{"p":"i","h":2,"x":3.53,"y":0,"n":4},{"p":"i","h":2,"x":3.69,"y":0,"n":4},{"p":"i","h":2,"x":3.86,"y":0,"n":4},{"p":"i","h":2,"x":3.36,"y":0.05,"n":1},{"p":"i","h":2,"x":3.53,"y":0.05,"n":1},{"p":"i","h":2,"x":3.53,"y":0.15,"n":1},{"p":"i","h":2,"x":3.69,"y":0.1,"n":1},{"p":"i","h":2,"x":3.69,"y":0.2,"n":1},{"p":"i","h":2,"x":3.69,"y":0.3,"n":1},{"p":"i","h":2,"x":3.69,"y":0.38,"n":1},{"p":"i","h":2,"x":3.69,"y":0.6,"n":1},{"p":"i","h":2,"x":3.86,"y":0.1,"n":1},{"p":"i","h":2,"x":3.86,"y":0.3,"n":1},
{"p":"j","h":5,"x":2.55,"y":1,"n":3},{"p":"j","h":5,"x":2.68,"y":1,"n":3},{"p":"j","h":5,"x":2.42,"y":0,"n":3},{"p":"j","h":5,"x":2.55,"y":0,"n":2},{"p":"j","h":5,"x":2.42,"y":0.05,"n":1},
{"p":"j","h":4,"x":2.82,"y":1,"n":3},{"p":"j","h":4,"x":2.93,"y":1,"n":3},{"p":"j","h":4,"x":2.7,"y":0,"n":3},{"p":"j","h":4,"x":2.82,"y":0,"n":2},
{"p":"j","h":3,"x":3.38,"y":1,"n":3},{"p":"j","h":3,"x":3.5,"y":1,"n":3},{"p":"j","h":3,"x":3.1,"y":0,"n":3},{"p":"j","h":3,"x":3.25,"y":0,"n":3},{"p":"j","h":3,"x":3.38,"y":0,"n":2},
{"p":"j","h":2,"x":4.26,"y":1,"n":4},{"p":"j","h":2,"x":4.41,"y":1,"n":4},{"p":"j","h":2,"x":4.6,"y":1,"n":4},{"p":"j","h":2,"x":4.76,"y":1,"n":4},{"p":"j","h":2,"x":4.93,"y":1,"n":4},{"p":"j","h":2,"x":5.09,"y":1,"n":4},{"p":"j","h":2,"x":3.7,"y":0,"n":2},{"p":"j","h":2,"x":4.08,"y":0,"n":3},{"p":"j","h":2,"x":4.26,"y":0,"n":4},{"p":"j","h":2,"x":4.41,"y":0,"n":4},{"p":"j","h":2,"x":4.6,"y":0,"n":3},{"p":"j","h":2,"x":4.76,"y":0,"n":2},{"p":"j","h":2,"x":4.93,"y":0,"n":2},{"p":"j","h":2,"x":5.09,"y":0,"n":1},{"p":"j","h":2,"x":4.08,"y":0.25,"n":1},{"p":"j","h":2,"x":4.26,"y":0.24,"n":1},{"p":"j","h":2,"x":4.41,"y":0.12,"n":1},{"p":"j","h":2,"x":4.6,"y":0.12,"n":1},{"p":"j","h":2,"x":4.41,"y":0.05,"n":2}
]
},
"spacing":2.1,
"resolve":{"scale":{"color":"independent","opacity":"independent"},"legend":{"color":"independent"}},
"vconcat":[
{"title":{"text":"Planar lattices","anchor":"middle","frame":"bounds","dx":16,"offset":-24},"spacing":22,"bounds":"flush","resolve":{"scale":{"color":"independent","opacity":"independent"},"legend":{"color":"independent"}},
"hconcat":[
{"width":580,"height":195,"title":{"text":"a","anchor":"start","offset":-8},"layer":[
{"data":{"name":"lines"},"transform":[{"filter":"datum.p=='a'"}],"mark":{"type":"line","strokeWidth":5,"strokeJoin":"round","clip":false},"encoding":{"x":{"field":"x","type":"quantitative","scale":{"domain":[1,6],"nice":false,"zero":false},"axis":{"values":[1,2,3,4,5,6],"labels":false},"title":null},"y":{"field":"y","type":"quantitative","scale":{"domain":[0,1],"nice":false},"axis":{"values":[0,0.5,1],"format":"~g","labels":true},"title":null},"color":{"field":"h","type":"nominal","scale":{"domain":[2,3,4,5],"range":["#3579c0","#d95319","#edb120","#8a22a5"]},"legend":{"orient":"top-left","title":"line\u00a0\u00a0h\u00a0\u00a0⟨R\u0304fix⟩","symbolType":"M-1.05,0H2.05","symbolStrokeWidth":5,"symbolSize":400,"labelExpr":"datum.label=='2'?'2 154.1':datum.label=='3'?'3\u00a0\u00a041.3':datum.label=='4'?'4\u00a0\u00a018.2':'5\u00a0\u00a010.3'"}}}},
{"data":{"name":"dots"},"transform":[{"filter":"datum.p=='a'"}],"mark":{"type":"circle","size":55},"encoding":{"x":{"field":"x","type":"quantitative","scale":{"domain":[1,6],"nice":false,"zero":false},"axis":{"values":[1,2,3,4,5,6],"labels":false},"title":null},"y":{"field":"y","type":"quantitative","scale":{"domain":[0,1],"nice":false},"axis":{"values":[0,0.5,1],"format":"~g","labels":true},"title":null},"color":{"field":"h","type":"nominal","scale":{"domain":[2,3,4,5],"range":["#3579c0","#d95319","#edb120","#8a22a5"]},"legend":null},"opacity":{"field":"n","type":"quantitative","scale":{"domain":[1,4],"range":[0.15,1]},"legend":null}}},
{"data":{"values":[{}]},"mark":{"type":"text","align":"right","baseline":"alphabetic","dx":-5,"dy":-55.5,"fontSize":18,"lineHeight":21.5,"color":"#1a1a1a"},"encoding":{"x":{"datum":6,"type":"quantitative","scale":{"domain":[1,6],"nice":false,"zero":false},"axis":{"values":[1,2,3,4,5,6],"labels":false},"title":null},"y":{"datum":0,"type":"quantitative","scale":{"domain":[0,1],"nice":false},"axis":{"values":[0,0.5,1],"format":"~g","labels":true},"title":null},"text":{"value":["⟨k⟩ = 4","1% initial C’s","isolated 97%"]}}}
]},
{"width":580,"height":195,"title":{"text":"b","anchor":"end","offset":-1},"layer":[
{"data":{"name":"lines"},"transform":[{"filter":"datum.p=='b'"}],"mark":{"type":"line","strokeWidth":5,"strokeJoin":"round","clip":false},"encoding":{"x":{"field":"x","type":"quantitative","scale":{"domain":[1,6],"nice":false,"zero":false},"axis":{"values":[1,2,3,4,5,6],"labels":false},"title":null},"y":{"field":"y","type":"quantitative","scale":{"domain":[0,1],"nice":false},"axis":{"values":[0,0.5,1],"format":"~g","labels":false},"title":null},"color":{"field":"h","type":"nominal","scale":{"domain":[2,3,4,5],"range":["#3579c0","#d95319","#edb120","#8a22a5"]},"legend":{"orient":"top-left","title":"line\u00a0\u00a0h\u00a0\u00a0⟨R\u0304fix⟩","symbolType":"M-1.05,0H2.05","symbolStrokeWidth":5,"symbolSize":400,"labelExpr":"datum.label=='2'?'2 307.3':datum.label=='3'?'3\u00a0\u00a069.2':datum.label=='4'?'4\u00a0\u00a035.4':'5\u00a0\u00a019.6'"}}}},
{"data":{"name":"dots"},"transform":[{"filter":"datum.p=='b'"}],"mark":{"type":"circle","size":55},"encoding":{"x":{"field":"x","type":"quantitative","scale":{"domain":[1,6],"nice":false,"zero":false},"axis":{"values":[1,2,3,4,5,6],"labels":false},"title":null},"y":{"field":"y","type":"quantitative","scale":{"domain":[0,1],"nice":false},"axis":{"values":[0,0.5,1],"format":"~g","labels":false},"title":null},"color":{"field":"h","type":"nominal","scale":{"domain":[2,3,4,5],"range":["#3579c0","#d95319","#edb120","#8a22a5"]},"legend":null},"opacity":{"field":"n","type":"quantitative","scale":{"domain":[1,4],"range":[0.15,1]},"legend":null}}},
{"data":{"values":[{}]},"mark":{"type":"text","align":"right","baseline":"alphabetic","dx":-5,"dy":-55.5,"fontSize":18,"lineHeight":21.5,"color":"#1a1a1a"},"encoding":{"x":{"datum":6,"type":"quantitative","scale":{"domain":[1,6],"nice":false,"zero":false},"axis":{"values":[1,2,3,4,5,6],"labels":false},"title":null},"y":{"datum":0,"type":"quantitative","scale":{"domain":[0,1],"nice":false},"axis":{"values":[0,0.5,1],"format":"~g","labels":false},"title":null},"text":{"value":["⟨k⟩ = 8","1% initial C’s","isolated 94%"]}}}
]}
]},
{"title":{"text":"Single-scale networks, random placement of initial C’s","anchor":"middle","frame":"bounds","dx":16,"offset":-24},"spacing":22,"bounds":"flush","resolve":{"scale":{"color":"independent","opacity":"independent"},"legend":{"color":"independent"}},
"hconcat":[
{"width":580,"height":195,"title":{"text":"c","anchor":"start","offset":-8},"layer":[
{"data":{"name":"lines"},"transform":[{"filter":"datum.p=='c'"}],"mark":{"type":"line","strokeWidth":5,"strokeJoin":"round","clip":false},"encoding":{"x":{"field":"x","type":"quantitative","scale":{"domain":[1,6],"nice":false,"zero":false},"axis":{"values":[1,2,3,4,5,6],"labels":false},"title":null},"y":{"field":"y","type":"quantitative","scale":{"domain":[0,1],"nice":false},"axis":{"values":[0,0.5,1],"format":"~g","labels":true},"title":null},"color":{"field":"h","type":"nominal","scale":{"domain":[2,3,4,5],"range":["#3579c0","#d95319","#edb120","#8a22a5"]},"legend":{"orient":"top-left","title":"line\u00a0\u00a0h\u00a0\u00a0⟨R\u0304fix⟩","symbolType":"M-1.05,0H2.05","symbolStrokeWidth":5,"symbolSize":400,"labelExpr":"datum.label=='2'?'2 378.1':datum.label=='3'?'3 100.2':datum.label=='4'?'4\u00a0\u00a043.3':'5\u00a0\u00a023.9'"}}}},
{"data":{"name":"dots"},"transform":[{"filter":"datum.p=='c'"}],"mark":{"type":"circle","size":55},"encoding":{"x":{"field":"x","type":"quantitative","scale":{"domain":[1,6],"nice":false,"zero":false},"axis":{"values":[1,2,3,4,5,6],"labels":false},"title":null},"y":{"field":"y","type":"quantitative","scale":{"domain":[0,1],"nice":false},"axis":{"values":[0,0.5,1],"format":"~g","labels":true},"title":null},"color":{"field":"h","type":"nominal","scale":{"domain":[2,3,4,5],"range":["#3579c0","#d95319","#edb120","#8a22a5"]},"legend":null},"opacity":{"field":"n","type":"quantitative","scale":{"domain":[1,4],"range":[0.15,1]},"legend":null}}},
{"data":{"values":[{}]},"mark":{"type":"text","align":"right","baseline":"alphabetic","dx":-5,"dy":-55.5,"fontSize":18,"lineHeight":21.5,"color":"#1a1a1a"},"encoding":{"x":{"datum":6,"type":"quantitative","scale":{"domain":[1,6],"nice":false,"zero":false},"axis":{"values":[1,2,3,4,5,6],"labels":false},"title":null},"y":{"datum":0,"type":"quantitative","scale":{"domain":[0,1],"nice":false},"axis":{"values":[0,0.5,1],"format":"~g","labels":true},"title":null},"text":{"value":["⟨k⟩ = 4","1% initial C’s","isolated 96%"]}}}
]},
{"width":580,"height":195,"title":{"text":"d","anchor":"end","offset":-1},"layer":[
{"data":{"name":"lines"},"transform":[{"filter":"datum.p=='d'"}],"mark":{"type":"line","strokeWidth":5,"strokeJoin":"round","clip":false},"encoding":{"x":{"field":"x","type":"quantitative","scale":{"domain":[1,6],"nice":false,"zero":false},"axis":{"values":[1,2,3,4,5,6],"labels":false},"title":null},"y":{"field":"y","type":"quantitative","scale":{"domain":[0,1],"nice":false},"axis":{"values":[0,0.5,1],"format":"~g","labels":false},"title":null},"color":{"field":"h","type":"nominal","scale":{"domain":[2,3,4,5],"range":["#3579c0","#d95319","#edb120","#8a22a5"]},"legend":{"orient":"top-left","title":"line\u00a0\u00a0h\u00a0\u00a0⟨R\u0304fix⟩","symbolType":"M-1.05,0H2.05","symbolStrokeWidth":5,"symbolSize":400,"labelExpr":"datum.label=='2'?'2 608.5':datum.label=='3'?'3 160.6':datum.label=='4'?'4\u00a0\u00a069.2':'5\u00a0\u00a037.9'"}}}},
{"data":{"name":"dots"},"transform":[{"filter":"datum.p=='d'"}],"mark":{"type":"circle","size":55},"encoding":{"x":{"field":"x","type":"quantitative","scale":{"domain":[1,6],"nice":false,"zero":false},"axis":{"values":[1,2,3,4,5,6],"labels":false},"title":null},"y":{"field":"y","type":"quantitative","scale":{"domain":[0,1],"nice":false},"axis":{"values":[0,0.5,1],"format":"~g","labels":false},"title":null},"color":{"field":"h","type":"nominal","scale":{"domain":[2,3,4,5],"range":["#3579c0","#d95319","#edb120","#8a22a5"]},"legend":null},"opacity":{"field":"n","type":"quantitative","scale":{"domain":[1,4],"range":[0.15,1]},"legend":null}}},
{"data":{"values":[{}]},"mark":{"type":"text","align":"right","baseline":"alphabetic","dx":-5,"dy":-55.5,"fontSize":18,"lineHeight":21.5,"color":"#1a1a1a"},"encoding":{"x":{"datum":6,"type":"quantitative","scale":{"domain":[1,6],"nice":false,"zero":false},"axis":{"values":[1,2,3,4,5,6],"labels":false},"title":null},"y":{"datum":0,"type":"quantitative","scale":{"domain":[0,1],"nice":false},"axis":{"values":[0,0.5,1],"format":"~g","labels":false},"title":null},"text":{"value":["⟨k⟩ = 8","1% initial C’s","isolated 91%"]}}}
]}
]},
{"title":{"text":"Single-scale networks, degree-rank placement of initial C’s","anchor":"middle","frame":"bounds","dx":16,"offset":-24},"spacing":22,"bounds":"flush","resolve":{"scale":{"color":"independent","opacity":"independent"},"legend":{"color":"independent"}},
"hconcat":[
{"width":580,"height":195,"title":{"text":"e","anchor":"start","offset":-8},"layer":[
{"data":{"name":"lines"},"transform":[{"filter":"datum.p=='e'"}],"mark":{"type":"line","strokeWidth":5,"strokeJoin":"round","clip":false},"encoding":{"x":{"field":"x","type":"quantitative","scale":{"domain":[1,6],"nice":false,"zero":false},"axis":{"values":[1,2,3,4,5,6],"labels":false},"title":null},"y":{"field":"y","type":"quantitative","scale":{"domain":[0,1],"nice":false},"axis":{"values":[0,0.5,1],"format":"~g","labels":true},"title":null},"color":{"field":"h","type":"nominal","scale":{"domain":[2,3,4,5],"range":["#3579c0","#d95319","#edb120","#8a22a5"]},"legend":null}}},
{"data":{"name":"dots"},"transform":[{"filter":"datum.p=='e'"}],"mark":{"type":"circle","size":55},"encoding":{"x":{"field":"x","type":"quantitative","scale":{"domain":[1,6],"nice":false,"zero":false},"axis":{"values":[1,2,3,4,5,6],"labels":false},"title":null},"y":{"field":"y","type":"quantitative","scale":{"domain":[0,1],"nice":false},"axis":{"values":[0,0.5,1],"format":"~g","labels":true},"title":null},"color":{"field":"h","type":"nominal","scale":{"domain":[2,3,4,5],"range":["#3579c0","#d95319","#edb120","#8a22a5"]},"legend":null},"opacity":{"field":"n","type":"quantitative","scale":{"domain":[1,4],"range":[0.15,1]},"legend":null}}},
{"data":{"values":[{}]},"mark":{"type":"text","align":"right","baseline":"alphabetic","dx":-5,"dy":-55.5,"fontSize":18,"lineHeight":21.5,"color":"#1a1a1a"},"encoding":{"x":{"datum":6,"type":"quantitative","scale":{"domain":[1,6],"nice":false,"zero":false},"axis":{"values":[1,2,3,4,5,6],"labels":false},"title":null},"y":{"datum":0,"type":"quantitative","scale":{"domain":[0,1],"nice":false},"axis":{"values":[0,0.5,1],"format":"~g","labels":true},"title":null},"text":{"value":["⟨k⟩ = 4","1% initial C’s","isolated 88%"]}}}
]},
{"width":580,"height":195,"title":{"text":"f","anchor":"end","offset":-1},"layer":[
{"data":{"name":"lines"},"transform":[{"filter":"datum.p=='f'"}],"mark":{"type":"line","strokeWidth":5,"strokeJoin":"round","clip":false},"encoding":{"x":{"field":"x","type":"quantitative","scale":{"domain":[1,6],"nice":false,"zero":false},"axis":{"values":[1,2,3,4,5,6],"labels":false},"title":null},"y":{"field":"y","type":"quantitative","scale":{"domain":[0,1],"nice":false},"axis":{"values":[0,0.5,1],"format":"~g","labels":false},"title":null},"color":{"field":"h","type":"nominal","scale":{"domain":[2,3,4,5],"range":["#3579c0","#d95319","#edb120","#8a22a5"]},"legend":null}}},
{"data":{"name":"dots"},"transform":[{"filter":"datum.p=='f'"}],"mark":{"type":"circle","size":55},"encoding":{"x":{"field":"x","type":"quantitative","scale":{"domain":[1,6],"nice":false,"zero":false},"axis":{"values":[1,2,3,4,5,6],"labels":false},"title":null},"y":{"field":"y","type":"quantitative","scale":{"domain":[0,1],"nice":false},"axis":{"values":[0,0.5,1],"format":"~g","labels":false},"title":null},"color":{"field":"h","type":"nominal","scale":{"domain":[2,3,4,5],"range":["#3579c0","#d95319","#edb120","#8a22a5"]},"legend":null},"opacity":{"field":"n","type":"quantitative","scale":{"domain":[1,4],"range":[0.15,1]},"legend":null}}},
{"data":{"values":[{}]},"mark":{"type":"text","align":"right","baseline":"alphabetic","dx":-5,"dy":-55.5,"fontSize":18,"lineHeight":21.5,"color":"#1a1a1a"},"encoding":{"x":{"datum":6,"type":"quantitative","scale":{"domain":[1,6],"nice":false,"zero":false},"axis":{"values":[1,2,3,4,5,6],"labels":false},"title":null},"y":{"datum":0,"type":"quantitative","scale":{"domain":[0,1],"nice":false},"axis":{"values":[0,0.5,1],"format":"~g","labels":false},"title":null},"text":{"value":["⟨k⟩ = 8","1% initial C’s","isolated 83%"]}}}
]}
]},
{"title":{"text":"Scale-free networks, random placement of initial C’s","anchor":"middle","frame":"bounds","dx":16,"offset":-24},"spacing":22,"bounds":"flush","resolve":{"scale":{"color":"independent","opacity":"independent"},"legend":{"color":"independent"}},
"hconcat":[
{"width":580,"height":195,"title":{"text":"g","anchor":"start","offset":-8},"layer":[
{"data":{"name":"lines"},"transform":[{"filter":"datum.p=='g'"}],"mark":{"type":"line","strokeWidth":5,"strokeJoin":"round","clip":false},"encoding":{"x":{"field":"x","type":"quantitative","scale":{"domain":[1,6],"nice":false,"zero":false},"axis":{"values":[1,2,3,4,5,6],"labels":false},"title":null},"y":{"field":"y","type":"quantitative","scale":{"domain":[0,1],"nice":false},"axis":{"values":[0,0.5,1],"format":"~g","labels":true},"title":null},"color":{"field":"h","type":"nominal","scale":{"domain":[2,3,4,5],"range":["#3579c0","#d95319","#edb120","#8a22a5"]},"legend":{"orient":"top-left","title":"line\u00a0\u00a0h\u00a0\u00a0⟨R\u0304fix⟩","symbolType":"M-1.05,0H2.05","symbolStrokeWidth":5,"symbolSize":400,"labelExpr":"datum.label=='2'?'2 3150':datum.label=='3'?'3 829.2':datum.label=='4'?'4 354.5':'5 192.1'"}}}},
{"data":{"name":"dots"},"transform":[{"filter":"datum.p=='g'"}],"mark":{"type":"circle","size":55},"encoding":{"x":{"field":"x","type":"quantitative","scale":{"domain":[1,6],"nice":false,"zero":false},"axis":{"values":[1,2,3,4,5,6],"labels":false},"title":null},"y":{"field":"y","type":"quantitative","scale":{"domain":[0,1],"nice":false},"axis":{"values":[0,0.5,1],"format":"~g","labels":true},"title":null},"color":{"field":"h","type":"nominal","scale":{"domain":[2,3,4,5],"range":["#3579c0","#d95319","#edb120","#8a22a5"]},"legend":null},"opacity":{"field":"n","type":"quantitative","scale":{"domain":[1,4],"range":[0.15,1]},"legend":null}}},
{"data":{"values":[{}]},"mark":{"type":"text","align":"right","baseline":"alphabetic","dx":-5,"dy":-55.5,"fontSize":18,"lineHeight":21.5,"color":"#1a1a1a"},"encoding":{"x":{"datum":6,"type":"quantitative","scale":{"domain":[1,6],"nice":false,"zero":false},"axis":{"values":[1,2,3,4,5,6],"labels":false},"title":null},"y":{"datum":0,"type":"quantitative","scale":{"domain":[0,1],"nice":false},"axis":{"values":[0,0.5,1],"format":"~g","labels":true},"title":null},"text":{"value":["⟨k⟩ = 4","1% initial C’s","isolated 97%"]}}}
]},
{"width":580,"height":195,"title":{"text":"h","anchor":"end","offset":-1},"layer":[
{"data":{"name":"lines"},"transform":[{"filter":"datum.p=='h'"}],"mark":{"type":"line","strokeWidth":5,"strokeJoin":"round","clip":false},"encoding":{"x":{"field":"x","type":"quantitative","scale":{"domain":[1,6],"nice":false,"zero":false},"axis":{"values":[1,2,3,4,5,6],"labels":false},"title":null},"y":{"field":"y","type":"quantitative","scale":{"domain":[0,1],"nice":false},"axis":{"values":[0,0.5,1],"format":"~g","labels":false},"title":null},"color":{"field":"h","type":"nominal","scale":{"domain":[2,3,4,5],"range":["#3579c0","#d95319","#edb120","#8a22a5"]},"legend":{"orient":"top-left","title":"line\u00a0\u00a0h\u00a0\u00a0⟨R\u0304fix⟩","symbolType":"M-1.05,0H2.05","symbolStrokeWidth":5,"symbolSize":400,"labelExpr":"datum.label=='2'?'2 4148':datum.label=='3'?'3 1092':datum.label=='4'?'4 466.5':'5 252.6'"}}}},
{"data":{"name":"dots"},"transform":[{"filter":"datum.p=='h'"}],"mark":{"type":"circle","size":55},"encoding":{"x":{"field":"x","type":"quantitative","scale":{"domain":[1,6],"nice":false,"zero":false},"axis":{"values":[1,2,3,4,5,6],"labels":false},"title":null},"y":{"field":"y","type":"quantitative","scale":{"domain":[0,1],"nice":false},"axis":{"values":[0,0.5,1],"format":"~g","labels":false},"title":null},"color":{"field":"h","type":"nominal","scale":{"domain":[2,3,4,5],"range":["#3579c0","#d95319","#edb120","#8a22a5"]},"legend":null},"opacity":{"field":"n","type":"quantitative","scale":{"domain":[1,4],"range":[0.15,1]},"legend":null}}},
{"data":{"values":[{}]},"mark":{"type":"text","align":"right","baseline":"alphabetic","dx":-5,"dy":-55.5,"fontSize":18,"lineHeight":21.5,"color":"#1a1a1a"},"encoding":{"x":{"datum":6,"type":"quantitative","scale":{"domain":[1,6],"nice":false,"zero":false},"axis":{"values":[1,2,3,4,5,6],"labels":false},"title":null},"y":{"datum":0,"type":"quantitative","scale":{"domain":[0,1],"nice":false},"axis":{"values":[0,0.5,1],"format":"~g","labels":false},"title":null},"text":{"value":["⟨k⟩ = 8","1% initial C’s","isolated 91%"]}}}
]}
]},
{"title":{"text":"Scale-free networks, degree-rank placement of initial C’s","anchor":"middle","frame":"bounds","dx":16,"offset":-24},"spacing":22,"bounds":"flush","resolve":{"scale":{"color":"independent","opacity":"independent"},"legend":{"color":"independent"}},
"hconcat":[
{"width":580,"height":195,"title":{"text":"i","anchor":"start","offset":-8},"layer":[
{"data":{"name":"lines"},"transform":[{"filter":"datum.p=='i'"}],"mark":{"type":"line","strokeWidth":5,"strokeJoin":"round","clip":false},"encoding":{"x":{"field":"x","type":"quantitative","scale":{"domain":[1,6],"nice":false,"zero":false},"axis":{"values":[1,2,3,4,5,6],"labels":true},"title":null},"y":{"field":"y","type":"quantitative","scale":{"domain":[0,1],"nice":false},"axis":{"values":[0,0.5,1],"format":"~g","labels":true},"title":null},"color":{"field":"h","type":"nominal","scale":{"domain":[2,3,4,5],"range":["#3579c0","#d95319","#edb120","#8a22a5"]},"legend":null}}},
{"data":{"name":"dots"},"transform":[{"filter":"datum.p=='i'"}],"mark":{"type":"circle","size":55},"encoding":{"x":{"field":"x","type":"quantitative","scale":{"domain":[1,6],"nice":false,"zero":false},"axis":{"values":[1,2,3,4,5,6],"labels":true},"title":null},"y":{"field":"y","type":"quantitative","scale":{"domain":[0,1],"nice":false},"axis":{"values":[0,0.5,1],"format":"~g","labels":true},"title":null},"color":{"field":"h","type":"nominal","scale":{"domain":[2,3,4,5],"range":["#3579c0","#d95319","#edb120","#8a22a5"]},"legend":null},"opacity":{"field":"n","type":"quantitative","scale":{"domain":[1,4],"range":[0.15,1]},"legend":null}}},
{"data":{"values":[{}]},"mark":{"type":"text","align":"right","baseline":"top","dx":-5,"dy":26,"fontSize":18,"lineHeight":21.5,"color":"#1a1a1a"},"encoding":{"x":{"datum":6,"type":"quantitative","scale":{"domain":[1,6],"nice":false,"zero":false},"axis":{"values":[1,2,3,4,5,6],"labels":true},"title":null},"y":{"datum":1,"type":"quantitative","scale":{"domain":[0,1],"nice":false},"axis":{"values":[0,0.5,1],"format":"~g","labels":true},"title":null},"text":{"value":["⟨k⟩ = 4","1% initial C’s","isolated 3.4%"]}}},
{"data":{"values":[{}]},"mark":{"type":"text","align":"right","baseline":"alphabetic","dx":-5,"dy":-10,"fontSize":18,"color":"#1a1a1a"},"encoding":{"x":{"datum":6,"type":"quantitative","scale":{"domain":[1,6],"nice":false,"zero":false},"axis":{"values":[1,2,3,4,5,6],"labels":true},"title":null},"y":{"datum":0,"type":"quantitative","scale":{"domain":[0,1],"nice":false},"axis":{"values":[0,0.5,1],"format":"~g","labels":true},"title":null},"text":{"value":"PD return, r"}}}
]},
{"width":580,"height":195,"title":{"text":"j","anchor":"end","offset":-1},"layer":[
{"data":{"name":"lines"},"transform":[{"filter":"datum.p=='j'"}],"mark":{"type":"line","strokeWidth":5,"strokeJoin":"round","clip":false},"encoding":{"x":{"field":"x","type":"quantitative","scale":{"domain":[1,6],"nice":false,"zero":false},"axis":{"values":[1,2,3,4,5,6],"labels":true},"title":null},"y":{"field":"y","type":"quantitative","scale":{"domain":[0,1],"nice":false},"axis":{"values":[0,0.5,1],"format":"~g","labels":false},"title":null},"color":{"field":"h","type":"nominal","scale":{"domain":[2,3,4,5],"range":["#3579c0","#d95319","#edb120","#8a22a5"]},"legend":null}}},
{"data":{"name":"dots"},"transform":[{"filter":"datum.p=='j'"}],"mark":{"type":"circle","size":55},"encoding":{"x":{"field":"x","type":"quantitative","scale":{"domain":[1,6],"nice":false,"zero":false},"axis":{"values":[1,2,3,4,5,6],"labels":true},"title":null},"y":{"field":"y","type":"quantitative","scale":{"domain":[0,1],"nice":false},"axis":{"values":[0,0.5,1],"format":"~g","labels":false},"title":null},"color":{"field":"h","type":"nominal","scale":{"domain":[2,3,4,5],"range":["#3579c0","#d95319","#edb120","#8a22a5"]},"legend":null},"opacity":{"field":"n","type":"quantitative","scale":{"domain":[1,4],"range":[0.15,1]},"legend":null}}},
{"data":{"values":[{}]},"mark":{"type":"text","align":"right","baseline":"top","dx":-6,"dy":26,"fontSize":18,"lineHeight":21.5,"color":"#1a1a1a"},"encoding":{"x":{"datum":6,"type":"quantitative","scale":{"domain":[1,6],"nice":false,"zero":false},"axis":{"values":[1,2,3,4,5,6],"labels":true},"title":null},"y":{"datum":1,"type":"quantitative","scale":{"domain":[0,1],"nice":false},"axis":{"values":[0,0.5,1],"format":"~g","labels":false},"title":null},"text":{"value":["⟨k⟩ = 8","1% initial C’s","isolated 0.4%"]}}},
{"data":{"values":[{}]},"mark":{"type":"text","align":"right","baseline":"alphabetic","dx":-6,"dy":-10,"fontSize":18,"color":"#1a1a1a"},"encoding":{"x":{"datum":6,"type":"quantitative","scale":{"domain":[1,6],"nice":false,"zero":false},"axis":{"values":[1,2,3,4,5,6],"labels":true},"title":null},"y":{"datum":0,"type":"quantitative","scale":{"domain":[0,1],"nice":false},"axis":{"values":[0,0.5,1],"format":"~g","labels":false},"title":null},"text":{"value":"PD return, r"}}}
]}
]}
]
}
